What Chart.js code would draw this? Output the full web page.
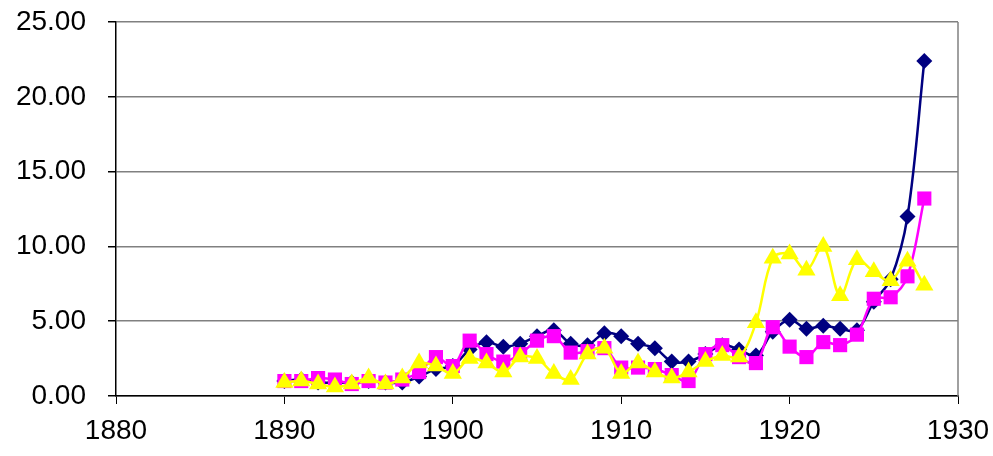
<!DOCTYPE html>
<html>
<head>
<meta charset="utf-8">
<script src="https://cdn.jsdelivr.net/npm/chart.js@4"></script>
<style>
  html, body { margin: 0; padding: 0; background: #fff; }
  #wrap { width: 993px; height: 456px; }
</style>
</head>
<body>
<div id="wrap"><canvas id="chart"></canvas></div>
<script>
// Dados
const years = [1890, 1891, 1892, 1893, 1894, 1895, 1896, 1897, 1898, 1899,
               1900, 1901, 1902, 1903, 1904, 1905, 1906, 1907, 1908, 1909,
               1910, 1911, 1912, 1913, 1914, 1915, 1916, 1917, 1918, 1919,
               1920, 1921, 1922, 1923, 1924, 1925, 1926, 1927, 1928];

const seriesNavy = [1.0, 1.1, 0.9, 0.9, 0.9, 1.0, 0.9, 0.9, 1.3, 1.8,
                    2.0, 3.1, 3.6, 3.3, 3.5, 4.0, 4.4, 3.5, 3.4, 4.2,
                    4.0, 3.5, 3.2, 2.3, 2.3, 2.8, 3.4, 3.1, 2.7, 4.3,
                    5.1, 4.5, 4.7, 4.5, 4.4, 6.3, 7.8, 12.0, 22.4];

const seriesMagenta = [1.0, 1.0, 1.2, 1.1, 0.8, 1.0, 0.9, 1.1, 1.6, 2.6,
                       2.0, 3.7, 2.8, 2.3, 2.8, 3.7, 4.0, 2.9, 3.0, 3.2,
                       1.9, 1.9, 1.8, 1.4, 1.0, 2.8, 3.4, 2.6, 2.2, 4.6,
                       3.3, 2.6, 3.6, 3.4, 4.1, 6.5, 6.6, 8.0, 13.2];

const seriesYellow = [0.9, 1.0, 0.8, 0.6, 0.8, 1.2, 0.8, 1.2, 2.2, 2.0,
                      1.5, 2.5, 2.2, 1.6, 2.6, 2.5, 1.5, 1.1, 2.8, 3.2,
                      1.5, 2.2, 1.6, 1.2, 1.6, 2.3, 2.7, 2.6, 4.9, 9.2,
                      9.5, 8.4, 10.0, 6.7, 9.1, 8.3, 7.7, 9.0, 7.4];

const xTicks = [1880, 1890, 1900, 1910, 1920, 1930];
const yTicks = [0, 5, 10, 15, 20, 25];

function toPoints(values) {
    return years.map((y, i) => ({ x: y, y: values[i] }));
}

// Borda direita da área do gráfico
const rightBorder = {
    id: 'rightBorder',
    beforeDatasetsDraw(chart) {
        const { ctx, chartArea } = chart;
        ctx.save();
        ctx.strokeStyle = '#808080';
        ctx.lineWidth = 1.5;
        ctx.beginPath();
        ctx.moveTo(chartArea.right, chartArea.top);
        ctx.lineTo(chartArea.right, chartArea.bottom);
        ctx.stroke();
        ctx.restore();
    }
};

Chart.defaults.font.family = '"Liberation Sans", Arial, sans-serif';
Chart.defaults.color = '#000';

new Chart(document.getElementById('chart'), {
    type: 'scatter',
    data: {
        datasets: [{
            data: toPoints(seriesYellow),
            showLine: true,
            borderColor: '#FFFF00',
            backgroundColor: '#FFFF00',
            pointStyle: 'triangle',
            pointRadius: 10.5,
            pointBorderWidth: 0,
            borderWidth: 2.5,
            tension: 0.35,
            order: 0
        }, {
            data: toPoints(seriesMagenta),
            showLine: true,
            borderColor: '#FF00FF',
            backgroundColor: '#FF00FF',
            pointStyle: 'rect',
            pointRadius: 10,
            pointBorderWidth: 0,
            borderWidth: 2.5,
            tension: 0.35,
            order: 1
        }, {
            data: toPoints(seriesNavy),
            showLine: true,
            borderColor: '#000080',
            backgroundColor: '#000080',
            pointStyle: 'rectRot',
            pointRadius: 8,
            pointBorderWidth: 0,
            borderWidth: 2.5,
            tension: 0.35,
            order: 2
        }]
    },
    options: {
        responsive: true,
        maintainAspectRatio: false,
        animation: false,
        layout: { padding: { top: 22, right: 35, left: 0, bottom: 0 } },
        plugins: {
            legend: { display: false },
            tooltip: { enabled: false }
        },
        scales: {
            x: {
                type: 'linear',
                min: xTicks[0],
                max: xTicks[xTicks.length - 1],
                afterBuildTicks: axis => { axis.ticks = xTicks.map(v => ({ value: v })); },
                afterFit: axis => {
                    axis.height = 60;
                    axis.paddingLeft = 0;
                    axis.paddingRight = 0;
                },
                grid: {
                    drawOnChartArea: false,
                    drawTicks: true,
                    tickLength: 8,
                    color: '#000'
                },
                border: { color: '#000', width: 1.5 },
                ticks: {
                    font: { size: 28 },
                    padding: 10,
                    callback: v => String(v)
                }
            },
            y: {
                min: yTicks[0],
                max: yTicks[yTicks.length - 1],
                afterBuildTicks: axis => { axis.ticks = yTicks.map(v => ({ value: v })); },
                afterFit: axis => {
                    axis.width = 116;
                    axis.paddingTop = 0;
                    axis.paddingBottom = 0;
                },
                grid: {
                    color: '#808080',
                    lineWidth: 1.5,
                    tickLength: 8,
                    tickColor: '#000'
                },
                border: { color: '#000', width: 1.5 },
                ticks: {
                    font: { size: 28 },
                    padding: 22,
                    callback: v => v.toFixed(2)
                }
            }
        }
    },
    plugins: [rightBorder]
});
</script>
</body>
</html>
